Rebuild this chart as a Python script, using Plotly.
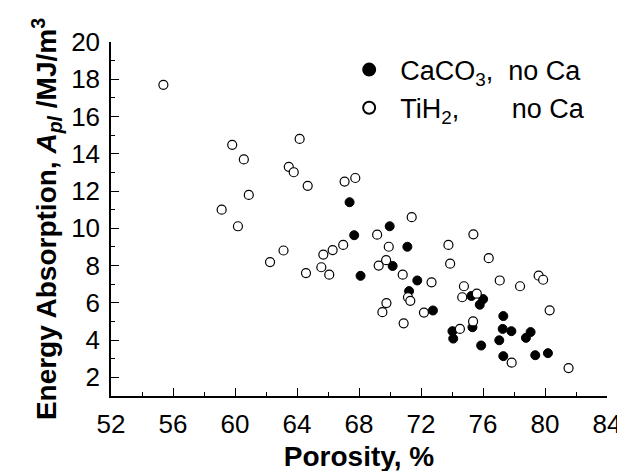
import plotly.graph_objects as go

# CaCO3, no Ca (filled circles)
caco3_porosity = [67.39, 67.69, 69.98, 71.12, 70.17, 68.10, 71.76, 71.23, 75.25, 76.01,
                  75.79, 72.77, 77.31, 75.32, 74.03, 74.08, 77.27, 77.83, 77.05, 79.07,
                  78.77, 75.88, 77.31, 79.37, 80.19]
caco3_energy = [11.40, 9.63, 10.11, 9.01, 7.98, 7.45, 7.20, 6.63, 6.37, 6.20,
                5.90, 5.59, 5.29, 4.69, 4.48, 4.08, 4.60, 4.48, 3.99, 4.43,
                4.12, 3.71, 3.14, 3.19, 3.30]

# TiH2, no Ca (open circles)
tih2_porosity = [55.38, 59.82, 60.57, 64.17, 63.47, 63.79, 64.69, 60.89, 59.14, 60.19,
                 67.07, 67.76, 62.26, 63.13, 64.58, 71.40, 69.17, 66.98, 66.30, 65.70,
                 69.92, 73.77, 75.38, 73.88, 76.37, 65.57, 66.08, 69.75, 69.27, 70.82,
                 72.68, 77.08, 78.39, 79.59, 79.88, 74.77, 71.16, 71.31, 74.66, 75.60,
                 69.77, 69.51, 72.19, 80.30, 70.88, 75.36, 74.51, 77.85, 81.52]
tih2_energy = [17.70, 14.48, 13.70, 14.80, 13.30, 13.01, 12.28, 11.79, 11.00, 10.11,
               12.51, 12.70, 8.19, 8.81, 7.60, 10.60, 9.66, 9.11, 8.83, 8.59,
               9.01, 9.11, 9.68, 8.10, 8.40, 7.91, 7.51, 8.29, 8.00, 7.51,
               7.10, 7.20, 6.89, 7.46, 7.24, 6.89, 6.30, 6.11, 6.30, 6.49,
               5.99, 5.50, 5.48, 5.60, 4.90, 5.00, 4.60, 2.79, 2.50]

x_tickvals = [52, 56, 60, 64, 68, 72, 76, 80, 84]
y_tickvals = [2, 4, 6, 8, 10, 12, 14, 16, 18, 20]

NB = "\u00a0"
name_caco3 = "CaCO<sub>3</sub>," + NB * 2 + "no Ca"
name_tih2 = "TiH<sub>2</sub>," + NB * 7 + "no Ca"

FONT = "Arial, Liberation Sans, Helvetica, sans-serif"

fig = go.Figure()
fig.add_trace(go.Scatter(
    x=caco3_porosity, y=caco3_energy, mode="markers", name=name_caco3,
    marker=dict(symbol="circle", size=9, color="black", line=dict(color="black", width=1)),
))
fig.add_trace(go.Scatter(
    x=tih2_porosity, y=tih2_energy, mode="markers", name=name_tih2,
    marker=dict(symbol="circle", size=9, color="white", line=dict(color="black", width=1.2)),
))

fig.update_layout(
    width=625, height=471,
    margin=dict(l=103, r=24, t=34, b=72),
    paper_bgcolor="white", plot_bgcolor="white",
    font=dict(family=FONT, color="black"),
    showlegend=True,
    legend=dict(
        x=0.458, y=0.99, xanchor="left", yanchor="top",
        font=dict(family=FONT, size=27, color="black"),
        bgcolor="rgba(0,0,0,0)", borderwidth=0,
        itemsizing="constant", itemwidth=52, tracegroupgap=0,
    ),
    xaxis=dict(
        range=[52, 84], tickvals=x_tickvals, ticktext=[str(v) for v in x_tickvals],
        ticks="inside", ticklen=8, tickwidth=1.2, tickcolor="black",
        minor=dict(dtick=2, ticks="inside", ticklen=4, tickwidth=1.2, tickcolor="black", showgrid=False),
        showline=True, linecolor="black", linewidth=1.5, mirror=False,
        showgrid=False, zeroline=False,
        tickfont=dict(family=FONT, size=26, color="black"),
        ticklabelstandoff=4,
        title=dict(text="<b>Porosity, %</b>", font=dict(family=FONT, size=28, color="black"), standoff=8),
    ),
    yaxis=dict(
        range=[1, 20], tickvals=y_tickvals, ticktext=[str(v) for v in y_tickvals],
        ticks="inside", ticklen=8, tickwidth=1.2, tickcolor="black",
        minor=dict(dtick=1, ticks="inside", ticklen=4, tickwidth=1.2, tickcolor="black", showgrid=False),
        showline=True, linecolor="black", linewidth=1.5, mirror=False,
        showgrid=False, zeroline=False,
        tickfont=dict(family=FONT, size=26, color="black"),
        ticklabelstandoff=4,
        title=dict(text="<b>Energy Absorption, <i>A</i><sub><i>pl</i></sub> /MJ/m<sup>3</sup></b>",
                   font=dict(family=FONT, size=28, color="black"), standoff=6),
    ),
)

fig.write_html("out.html")
